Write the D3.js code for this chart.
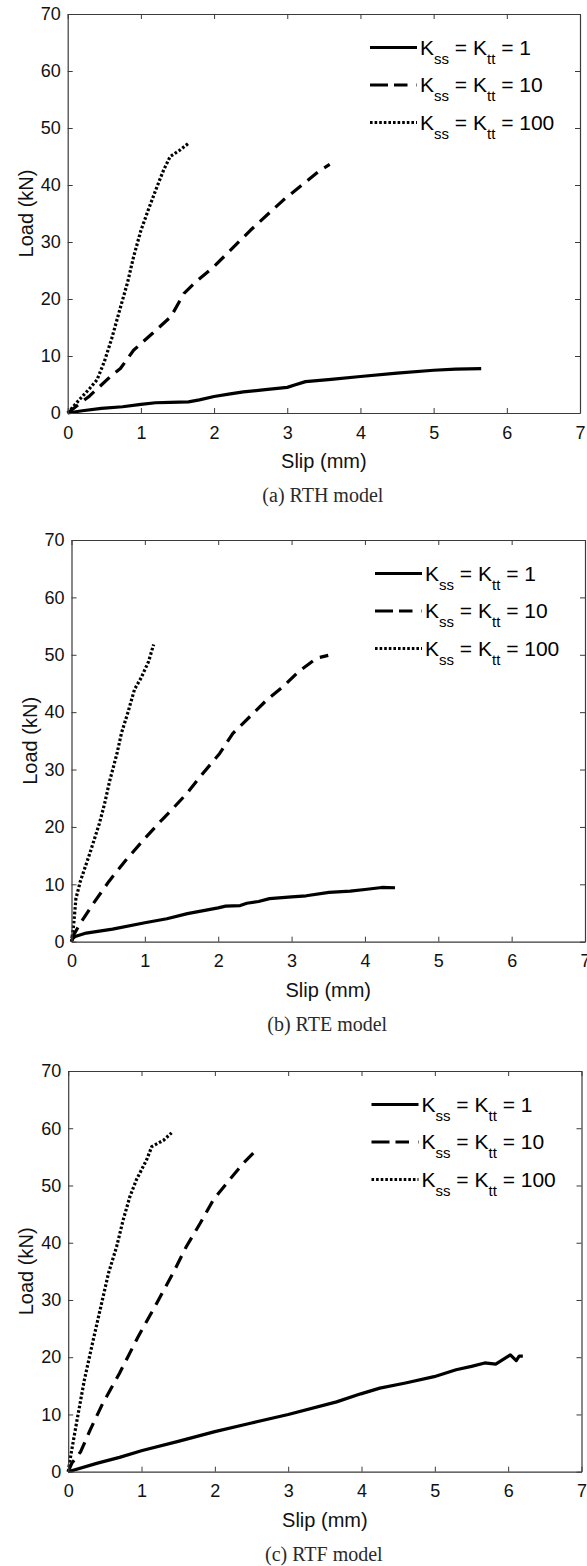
<!DOCTYPE html>
<html>
<head>
<meta charset="utf-8">
<script src="https://cdn.jsdelivr.net/npm/d3@7/dist/d3.min.js"></script>
<style>
  html, body { margin: 0; padding: 0; background: #fff; }
  svg { display: block; }
</style>
</head>
<body>
<script>
// Load–slip curves for three connection models at three stiffness ratios
const slipTicks = [0, 1, 2, 3, 4, 5, 6, 7];
const loadTicks = [0, 10, 20, 30, 40, 50, 60, 70];
const stiffnessLabels = ["1", "10", "100"];
const captions = ["(a) RTH model", "(b) RTE model", "(c) RTF model"];

// RTH model [slip (mm), load (kN)]
const rthK1 = [[0,0],[0.2,0.4],[0.46,0.8],[0.75,1.1],[1.0,1.5],[1.2,1.8],[1.4,1.85],[1.65,1.95],[1.8,2.3],[2.0,2.9],[2.2,3.3],[2.4,3.7],[2.7,4.1],[3.0,4.5],[3.1,4.9],[3.25,5.5],[3.6,5.9],[4.0,6.4],[4.5,7.0],[5.0,7.5],[5.3,7.7],[5.65,7.8]];
const rthK10 = [[0,0],[0.3,3],[0.6,6.6],[0.72,7.8],[0.9,11],[1.16,14],[1.41,16.9],[1.59,21],[1.75,23],[2.0,25.7],[2.5,32.1],[2.95,37.4],[3.2,40],[3.45,42.6],[3.58,43.6]];
const rthK100 = [[0,0],[0.15,2.2],[0.3,4.3],[0.4,5.8],[0.5,9],[0.6,13],[0.72,18.5],[0.82,23],[0.9,27.4],[1.0,32],[1.1,35.6],[1.22,39.7],[1.31,42.6],[1.4,45],[1.53,46.1],[1.65,47.3]];

// RTE model
const rteK1 = [[0,0],[0.02,0.6],[0.05,0.9],[0.2,1.5],[0.56,2.2],[1.0,3.3],[1.3,4.0],[1.58,4.9],[2.0,5.9],[2.1,6.2],[2.3,6.3],[2.39,6.7],[2.55,7.0],[2.7,7.5],[3.0,7.8],[3.2,8.0],[3.51,8.6],[3.8,8.8],[4.0,9.1],[4.23,9.45],[4.41,9.4]];
const rteK10 = [[0,0.5],[0.12,3.2],[0.3,6.7],[0.51,10.5],[0.74,14.2],[1.0,18],[1.23,21.2],[1.36,22.9],[1.57,25.8],[1.79,29.3],[2.02,32.8],[2.2,36.3],[2.43,39.2],[2.66,42.1],[2.88,44.4],[3.09,47],[3.34,49.4],[3.5,49.9]];
const rteK100 = [[0,0],[0.03,3],[0.06,7.5],[0.12,10.5],[0.25,15.4],[0.38,20.6],[0.45,24],[0.52,28],[0.62,32.8],[0.68,36.3],[0.77,40],[0.86,44],[0.95,46],[1.05,48.8],[1.12,51.8]];

// RTF model
const rtfK1 = [[0,0],[0.4,1.5],[0.7,2.5],[1.01,3.7],[1.5,5.3],[2.0,7.0],[2.5,8.5],[3.0,10.0],[3.66,12.2],[3.99,13.6],[4.25,14.6],[4.6,15.5],[4.99,16.6],[5.29,17.8],[5.5,18.4],[5.68,19.0],[5.83,18.8],[6.03,20.4],[6.11,19.4],[6.15,20.2],[6.2,20.2]];
const rtfK10 = [[0,0],[0.05,1.5],[0.17,3.5],[0.3,7.3],[0.47,11.9],[0.7,17.2],[0.95,23.5],[1.18,28.8],[1.43,34.7],[1.61,39.3],[1.8,43.4],[1.98,47.5],[2.2,51],[2.39,53.9],[2.59,56.5]];
const rtfK100 = [[0,0],[0.04,3.2],[0.12,9],[0.22,16],[0.32,21.8],[0.43,28],[0.55,34.7],[0.66,39.3],[0.75,44],[0.84,48],[0.93,51],[1.07,54.5],[1.14,56.8],[1.3,57.9],[1.41,59.2]];

const modelSeries = [
  [rthK1, rthK10, rthK100],
  [rteK1, rteK10, rteK100],
  [rtfK1, rtfK10, rtfK100]
];

// Plot boxes (px) for each panel
const boxes = [
  { left: 67.7, right: 580.0, top: 14.0,   bottom: 413.0 },
  { left: 71.5, right: 585.0, top: 540.0,  bottom: 941.7 },
  { left: 68.2, right: 581.5, top: 1071.0, bottom: 1471.7 }
];

const lineStyles = [
  { dash: null,     width: 3.2, legendDash: null },
  { dash: "13,8",   width: 3.2, legendDash: "18,6,13.5,9,1.5,10" },
  { dash: "2.6,2",  width: 3.2, legendDash: "2.6,2" }
];

const W = 587, H = 1566;
const sans = "'Liberation Sans', Arial, Helvetica, sans-serif";
const serif = "'Liberation Serif', 'Times New Roman', serif";
const axisColor = "#3a3a3a";

const svg = d3.select("body").append("svg")
  .attr("width", W).attr("height", H);

modelSeries.forEach((series, i) => {
  const b = boxes[i];
  const x = d3.scaleLinear().domain([0, 7]).range([b.left, b.right]);
  const y = d3.scaleLinear().domain([0, 70]).range([b.bottom, b.top]);
  const g = svg.append("g");

  // Curves
  const line = d3.line().x(d => x(d[0])).y(d => y(d[1]));
  series.forEach((data, k) => {
    const st = lineStyles[k];
    g.append("path")
      .datum(data)
      .attr("d", line)
      .attr("fill", "none")
      .attr("stroke", "#000")
      .attr("stroke-width", st.width)
      .attr("stroke-linejoin", "round")
      .attr("stroke-dasharray", st.dash);
  });

  // Axes: inward ticks on all four sides, box frame
  const tickLen = 5;
  const styleAxis = sel => {
    sel.select(".domain").attr("stroke", axisColor).attr("stroke-width", 1.2);
    sel.selectAll(".tick line").attr("stroke", axisColor).attr("stroke-width", 1);
  };

  const xBottom = g.append("g").attr("transform", `translate(0,${b.bottom})`)
    .call(d3.axisBottom(x).tickValues(slipTicks).tickFormat(d3.format("d"))
      .tickSizeInner(-tickLen).tickSizeOuter(0).tickPadding(14));
  styleAxis(xBottom);
  xBottom.selectAll(".tick text")
    .attr("font-family", sans).attr("font-size", 18).attr("fill", "#111")
    .attr("dy", "0.71em").attr("y", 13);

  const xTop = g.append("g").attr("transform", `translate(0,${b.top})`)
    .call(d3.axisTop(x).tickValues(slipTicks).tickFormat("")
      .tickSizeInner(-tickLen).tickSizeOuter(0));
  styleAxis(xTop);

  const yLeft = g.append("g").attr("transform", `translate(${b.left},0)`)
    .call(d3.axisLeft(y).tickValues(loadTicks).tickFormat(d3.format("d"))
      .tickSizeInner(-tickLen).tickSizeOuter(0));
  styleAxis(yLeft);
  yLeft.selectAll(".tick text")
    .attr("font-family", sans).attr("font-size", 18).attr("fill", "#111")
    .attr("x", -7);

  const yRight = g.append("g").attr("transform", `translate(${b.right},0)`)
    .call(d3.axisRight(y).tickValues(loadTicks).tickFormat("")
      .tickSizeInner(-tickLen).tickSizeOuter(0));
  styleAxis(yRight);

  // Axis titles
  g.append("text")
    .attr("x", (b.left + b.right) / 2).attr("y", b.bottom + 48)
    .attr("text-anchor", "middle").attr("dominant-baseline", "central")
    .attr("font-family", sans).attr("font-size", 20).attr("fill", "#111")
    .text("Slip (mm)");

  g.append("text")
    .attr("transform", `translate(${b.left - 42},${(b.top + b.bottom) / 2}) rotate(-90)`)
    .attr("text-anchor", "middle").attr("dominant-baseline", "central")
    .attr("font-family", sans).attr("font-size", 20).attr("fill", "#111")
    .text("Load (kN)");

  // Caption
  g.append("text")
    .attr("x", (b.left + b.right) / 2 - 1).attr("y", b.bottom + 82)
    .attr("text-anchor", "middle").attr("dominant-baseline", "central")
    .attr("font-family", serif).attr("font-size", 20).attr("fill", "#2a2a2a")
    .text(captions[i]);

  // Legend
  const lg = g.append("g");
  stiffnessLabels.forEach((lab, k) => {
    const ly = b.top + 33.5 + k * 37.5;
    const st = lineStyles[k];
    lg.append("line")
      .attr("x1", b.right - 210).attr("x2", b.right - 163)
      .attr("y1", ly).attr("y2", ly)
      .attr("stroke", "#000").attr("stroke-width", st.width)
      .attr("stroke-dasharray", st.legendDash);

    const t = lg.append("text")
      .attr("x", b.right - 160).attr("y", ly + 7)
      .attr("font-family", sans).attr("font-size", 21).attr("fill", "#000")
      .style("white-space", "pre");
    t.append("tspan").text("K");
    t.append("tspan").attr("font-size", 15).attr("dy", 9).text("ss");
    t.append("tspan").attr("dy", -9).text(" = K");
    t.append("tspan").attr("font-size", 15).attr("dy", 9).text("tt");
    t.append("tspan").attr("dy", -9).text(" = " + lab);
  });
});
</script>
</body>
</html>
